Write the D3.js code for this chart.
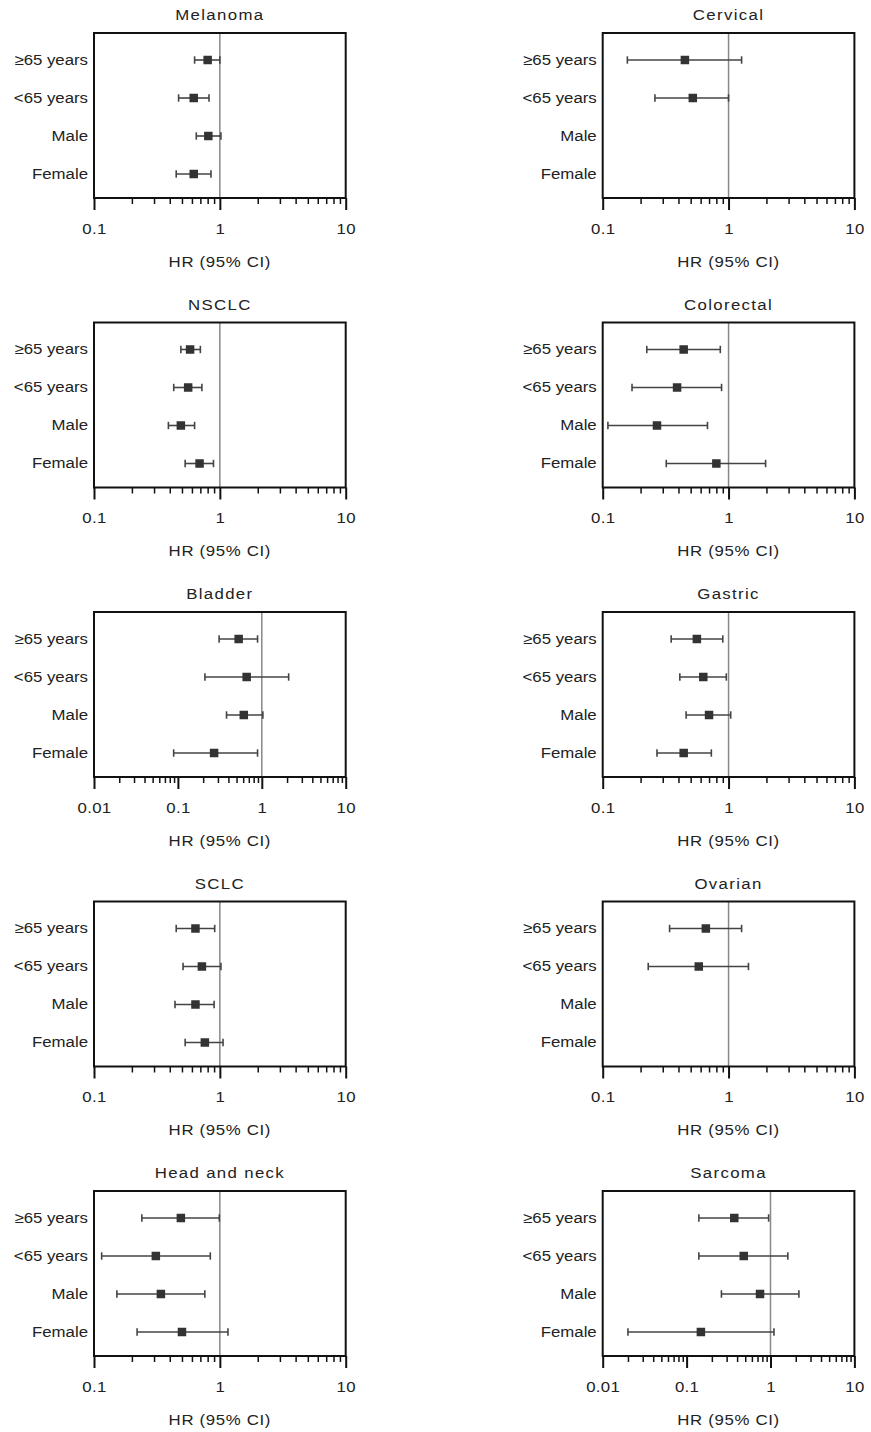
<!DOCTYPE html>
<html lang="en">
<head>
    <meta charset="UTF-8">
    <title>HR forest plots</title>
    <script src="https://d3js.org/d3.v7.min.js"></script>
    <style>
        body { margin: 0; background: white; }
        text { font-family: "Liberation Sans", Arial, sans-serif; fill: #222; }
    </style>
</head>
<body>
    <svg id="svg1" width="871" height="1432" style="background:white;"></svg>

    <script>
        // data ------------------------------------------------------------
        const panelTitles = ["Melanoma", "Cervical", "NSCLC", "Colorectal", "Bladder",
                             "Gastric", "SCLC", "Ovarian", "Head and neck", "Sarcoma"];
        const rowLabels = ["\u226565 years", "<65 years", "Male", "Female"];
        const xMin = [0.1, 0.1, 0.1, 0.1, 0.01, 0.1, 0.1, 0.1, 0.1, 0.01];
        const xMax = 10;

        const hr = [
            [0.80, 0.62, 0.81, 0.62],
            [0.45, 0.52, null, null],
            [0.58, 0.56, 0.49, 0.69],
            [0.44, 0.39, 0.27, 0.80],
            [0.53, 0.66, 0.61, 0.27],
            [0.56, 0.63, 0.70, 0.44],
            [0.64, 0.72, 0.64, 0.76],
            [0.66, 0.58, null, null],
            [0.49, 0.31, 0.34, 0.50],
            [0.37, 0.48, 0.75, 0.148]
        ];
        const ciLow = [
            [0.63, 0.47, 0.65, 0.45],
            [0.157, 0.26, null, null],
            [0.49, 0.43, 0.39, 0.53],
            [0.224, 0.171, 0.11, 0.32],
            [0.31, 0.21, 0.38, 0.089],
            [0.35, 0.41, 0.46, 0.27],
            [0.45, 0.51, 0.44, 0.53],
            [0.34, 0.23, null, null],
            [0.24, 0.115, 0.152, 0.22],
            [0.14, 0.14, 0.26, 0.020]
        ];
        const ciHigh = [
            [1.0, 0.82, 1.02, 0.85],
            [1.27, 1.0, null, null],
            [0.70, 0.72, 0.63, 0.89],
            [0.86, 0.88, 0.68, 1.97],
            [0.89, 2.09, 1.03, 0.89],
            [0.90, 0.96, 1.04, 0.73],
            [0.91, 1.02, 0.90, 1.06],
            [1.27, 1.44, null, null],
            [0.99, 0.84, 0.76, 1.16],
            [0.95, 1.61, 2.18, 1.10]
        ];
        const axisTitle = "HR (95% CI)";

        // layout ----------------------------------------------------------
        const svg1 = d3.select("svg#svg1");
        const colLeft = [94, 602.7];
        const boxWidth = 251.7;
        const boxHeight = 165;
        const firstTop = 33;
        const rowStep = 289.5;
        const stretch = 1.12;   // text in the reference is drawn a little wide

        const yScale = d3.scalePoint().domain(rowLabels).range([27, 141]);

        panelTitles.forEach((title, i) => {
            const col = i % 2;
            const row = Math.floor(i / 2);
            const left = colLeft[col];
            const top = firstTop + row * rowStep;

            const g = svg1.append("g")
                .attr("class", "panel")
                .attr("transform", `translate(${left},${top})`);

            const xScale = d3.scaleLog().domain([xMin[i], xMax]).range([0, boxWidth]);

            // ticks
            const decades = d3.range(Math.round(Math.log10(xMin[i])), 1);
            const majorTicks = decades.map(p => Math.pow(10, p)).concat([xMax]);
            const minorTicks = [];
            decades.forEach(p => {
                for (let k = 2; k <= 9; k++) minorTicks.push(k * Math.pow(10, p));
            });

            const minorAxis = d3.axisBottom(xScale)
                .tickValues(minorTicks)
                .tickSize(6)
                .tickSizeOuter(0)
                .tickFormat("");
            g.append("g")
                .attr("class", "x minor")
                .attr("transform", `translate(0,${boxHeight})`)
                .call(minorAxis)
                .call(a => a.select(".domain").remove())
                .call(a => a.selectAll("line").attr("stroke", "#111").attr("stroke-width", 1.5));

            const majorAxis = d3.axisBottom(xScale)
                .tickValues(majorTicks)
                .tickSize(12)
                .tickSizeOuter(0)
                .tickFormat(d => d3.format("~g")(d));
            g.append("g")
                .attr("class", "x major")
                .attr("transform", `translate(0,${boxHeight})`)
                .call(majorAxis)
                .call(a => a.select(".domain").remove())
                .call(a => a.selectAll("line").attr("stroke", "#111").attr("stroke-width", 2))
                .call(a => a.selectAll("text")
                    .attr("y", 0).attr("dy", null)
                    .attr("transform", `translate(0,35.5) scale(${stretch},1)`)
                    .style("font-size", "15px")
                    .style("letter-spacing", "0.3px")
                    .style("font-family", "'Liberation Sans', Arial, sans-serif")
                    .attr("fill", "#222"));

            // reference line at HR = 1
            g.append("line")
                .attr("x1", xScale(1)).attr("x2", xScale(1))
                .attr("y1", 0).attr("y2", boxHeight)
                .attr("stroke", "#888").attr("stroke-width", 1.5);

            // box
            g.append("rect")
                .attr("x", 0).attr("y", 0)
                .attr("width", boxWidth).attr("height", boxHeight)
                .attr("fill", "none")
                .attr("stroke", "#111").attr("stroke-width", 2);

            // row labels
            g.selectAll("text.rowlabel")
                .data(rowLabels)
                .join("text")
                .attr("class", "rowlabel")
                .attr("transform", d => `translate(-6,${yScale(d) + 4.8}) scale(${stretch},1)`)
                .attr("text-anchor", "end")
                .style("font-size", "15px")
                .text(d => d);

            // error bars and markers
            const points = rowLabels.map((r, k) => ({
                row: r, hr: hr[i][k], lo: ciLow[i][k], hi: ciHigh[i][k]
            })).filter(d => d.hr !== null);

            const bars = g.selectAll("g.est")
                .data(points)
                .join("g")
                .attr("class", "est")
                .attr("stroke", "#444")
                .attr("stroke-width", 1.6);

            bars.append("line")
                .attr("x1", d => xScale(d.lo)).attr("x2", d => xScale(d.hi))
                .attr("y1", d => yScale(d.row)).attr("y2", d => yScale(d.row));
            bars.append("line")
                .attr("x1", d => xScale(d.lo)).attr("x2", d => xScale(d.lo))
                .attr("y1", d => yScale(d.row) - 3.7).attr("y2", d => yScale(d.row) + 3.7);
            bars.append("line")
                .attr("x1", d => xScale(d.hi)).attr("x2", d => xScale(d.hi))
                .attr("y1", d => yScale(d.row) - 3.7).attr("y2", d => yScale(d.row) + 3.7);
            bars.append("rect")
                .attr("x", d => xScale(d.hr) - 4.25)
                .attr("y", d => yScale(d.row) - 4.25)
                .attr("width", 8.5).attr("height", 8.5)
                .attr("fill", "#333").attr("stroke", "none");

            // titles
            g.append("text")
                .attr("transform", `translate(${boxWidth / 2},-13) scale(${stretch},1)`)
                .attr("text-anchor", "middle")
                .style("font-size", "15px")
                .style("letter-spacing", "1.2px")
                .text(title);

            g.append("text")
                .attr("transform", `translate(${boxWidth / 2},${boxHeight + 68.5}) scale(${stretch},1)`)
                .attr("text-anchor", "middle")
                .style("font-size", "15px")
                .style("letter-spacing", "0.6px")
                .text(axisTitle);
        });
    </script>
</body>
</html>
